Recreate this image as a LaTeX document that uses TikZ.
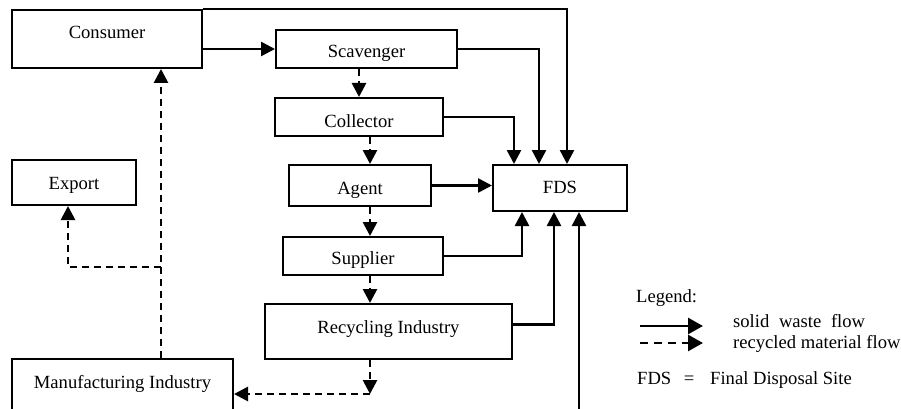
\documentclass[tikz,border=0pt]{standalone}
\usepackage{fontspec}
\setmainfont{Liberation Serif}
\usetikzlibrary{arrows.meta,calc}
\tikzset{
  box/.style={draw, line width=2pt, rectangle, inner sep=0pt},
  lbl/.style={inner sep=0pt, anchor=base, font=\fontsize{18.6}{22}\selectfont},
  solidflow/.style={line width=2.5pt, -{Triangle[length=14pt,width=14pt]}},
  dashflow/.style={line width=2.7pt, dash pattern=on 7pt off 5pt, -{Triangle[length=14pt,width=14pt]}},
  legsolid/.style={line width=2.8pt, -{Triangle[length=15pt,width=16pt]}},
  legdash/.style={line width=2.8pt, dash pattern=on 8pt off 6pt, -{Triangle[length=15pt,width=16pt]}},
}
\begin{document}
\begin{tikzpicture}[x=1pt,y=-1pt]
\useasboundingbox[fill=white] (0,0) rectangle (901,409);
% boxes
\node[box, minimum width=190pt, minimum height=58pt] (consumer) at (107,39) {};
\node[box, minimum width=181pt, minimum height=38pt] (scav) at (366.5,49) {};
\node[box, minimum width=168pt, minimum height=38pt] (collector) at (359,117) {};
\node[box, minimum width=142pt, minimum height=41pt] (agent) at (360,185.5) {};
\node[box, minimum width=124pt, minimum height=45pt] (export) at (74,182.5) {};
\node[box, minimum width=134pt, minimum height=46pt] (fds) at (560,188) {};
\node[box, minimum width=160pt, minimum height=38pt] (supplier) at (363,256) {};
\node[box, minimum width=247pt, minimum height=55pt] (recyc) at (388.5,331.5) {};
\node[box, minimum width=221pt, minimum height=58pt] (manuf) at (122.5,388) {};
% texts
\node[lbl] (consumerT) at (107,39) {Consumer};
\node[lbl] (scavT) at (366.5,58) {Scavenger};
\node[lbl] (collectorT) at (359,127) {Collector};
\node[lbl] (agentT) at (360,194) {Agent};
\node[lbl] (exportT) at (74,189) {Export};
\node[lbl] (fdsT) at (560,193) {FDS};
\node[lbl] (supplierT) at (363,264) {Supplier};
\node[lbl] (recycT) at (388.5,333) {Recycling Industry};
\node[lbl] (manufT) at (122.5,388) {Manufacturing Industry};
% helper coordinates
\coordinate (col) at (370,0);
\coordinate (vx) at (161,0);
\coordinate (ej) at (161,267);
\coordinate (mcorner) at (370,394);
\coordinate (bottomin) at (579,415);
% solid flows
\draw[solidflow] (consumer.east |- scav.west) -- (scav.west);
\draw[solidflow] (consumer.north east) -| ([xshift=7pt]fds.north);
\draw[solidflow] (scav.east) -| ([xshift=-21pt]fds.north);
\draw[solidflow] (collector.east) -| ([xshift=-46pt]fds.north);
\draw[solidflow] (agent.east) -- (agent.east -| fds.west);
\draw[solidflow] (supplier.east) -| ([xshift=-38pt]fds.south);
\draw[solidflow] ([yshift=7pt]recyc.east) -| ([xshift=-6pt]fds.south);
\draw[solidflow] (bottomin) -- (bottomin |- fds.south);
% dashed flows
\draw[dashflow] (collector.north |- scav.south) -- (collector.north);
\draw[dashflow] (collector.south -| col) -- (agent.north -| col);
\draw[dashflow] (agent.south -| col) -- (supplier.north -| col);
\draw[dashflow] (supplier.south -| col) -- (recyc.north -| col);
\draw[dashflow] (recyc.south -| col) -- (mcorner);
\draw[dashflow] (mcorner) -- (mcorner -| manuf.east);
\draw[dashflow] (manuf.north -| vx) -- (consumer.south -| vx);
\draw[dashflow] (ej) -| ([xshift=-6pt]export.south);
% legend
\node[lbl, anchor=base west] (legT) at (636,302) {Legend:};
\coordinate (ls1) at (640,326);
\coordinate (ls2) at (703,326);
\coordinate (ld1) at (640,343);
\coordinate (ld2) at (703,343);
\draw[legsolid] (ls1) -- (ls2);
\draw[legdash] (ld1) -- (ld2);
\node[lbl, anchor=base west] (solidT) at (733,327) {solid\hspace{5pt} waste\hspace{5pt} flow};
\node[lbl, anchor=base west] (dashT) at (733,348) {recycled material flow};
\node[lbl, anchor=base west] (fdsL) at (637,384) {FDS};
\node[lbl] (eqL) at (689,384) {=};
\node[lbl, anchor=base west] (fdsDef) at (710,384) {Final Disposal Site};
\end{tikzpicture}
\end{document}
